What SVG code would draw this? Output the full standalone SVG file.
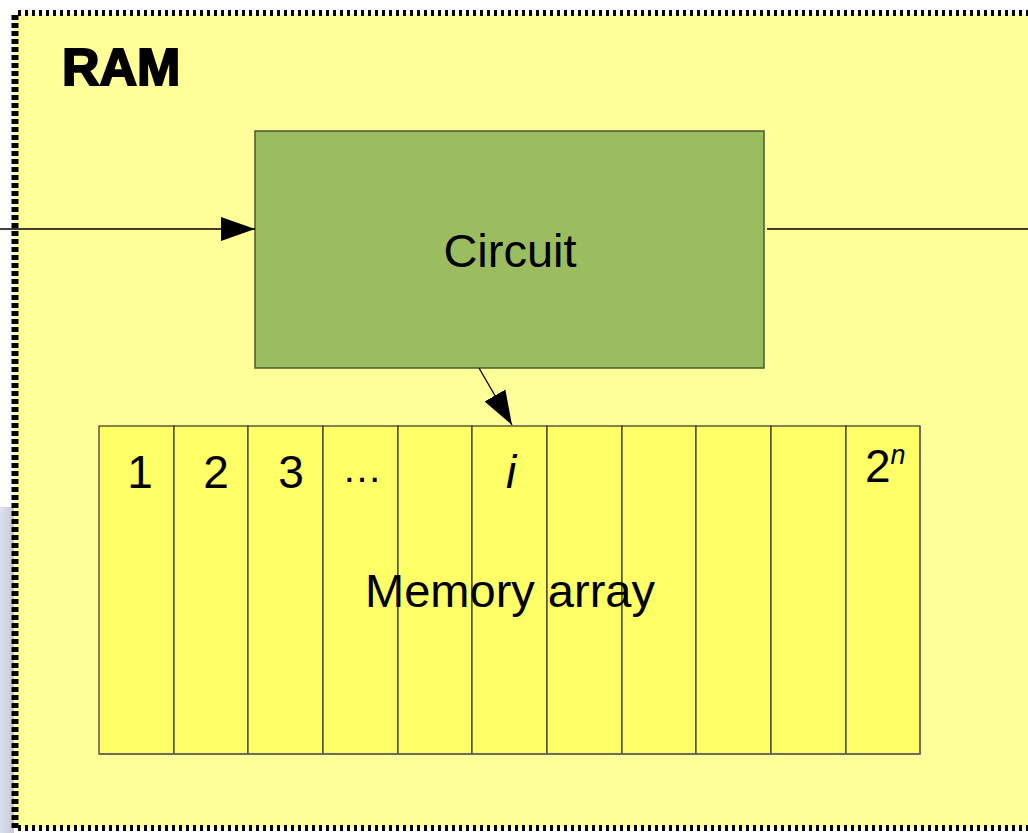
<svg xmlns="http://www.w3.org/2000/svg" width="1028" height="833" viewBox="0 0 1028 833">
<defs>
<style>
.t{font-family:"Liberation Sans",Arial,sans-serif;fill:#000}
.cell{fill:#ffff66;stroke:#333;stroke-width:1.2}
.con{stroke:#000;stroke-width:1.3;fill:none}
</style>
<marker id="ah" markerWidth="36" markerHeight="26" refX="34" refY="13" orient="auto" markerUnits="userSpaceOnUse">
<path d="M0,1 L34,13 L0,25 Z" fill="#000"/>
</marker>
<linearGradient id="lg" x1="0" y1="0" x2="1" y2="0">
<stop offset="0" stop-color="#dde0ee"/><stop offset="1" stop-color="#c8c8d4"/>
</linearGradient>
</defs>
<rect width="1028" height="833" fill="#fff"/>
<rect x="0" y="507" width="14" height="326" fill="url(#lg)"/>
<g id="ram">
<rect x="14" y="14" width="1020" height="814" fill="#ffff99"/>
<path d="M15,828 L15,14" fill="none" stroke="#000" stroke-width="7" stroke-dasharray="5,3"/>
<path d="M18,13 L1028,13" fill="none" stroke="#000" stroke-width="6" stroke-dasharray="3,4"/>
<path d="M18,828 L1028,828" fill="none" stroke="#000" stroke-width="6" stroke-dasharray="3,4"/>
<text class="t" x="62" y="85" font-size="52" font-weight="bold" stroke="#000" stroke-width="2">RAM</text>
</g>
<g id="circuit">
<rect x="255" y="131" width="509" height="237" fill="#9bbd5f" stroke="#4a5a30" stroke-width="1.5"/>
<text class="t" x="510" y="267" font-size="47" text-anchor="middle">Circuit</text>
</g>
<g id="memory">
<rect class="cell" x="99" y="426" width="75" height="328"/>
<rect class="cell" x="174" y="426" width="74" height="328"/>
<rect class="cell" x="248" y="426" width="75" height="328"/>
<rect class="cell" x="323" y="426" width="75" height="328"/>
<rect class="cell" x="398" y="426" width="74" height="328"/>
<rect class="cell" x="472" y="426" width="75" height="328"/>
<rect class="cell" x="547" y="426" width="75" height="328"/>
<rect class="cell" x="622" y="426" width="74" height="328"/>
<rect class="cell" x="696" y="426" width="75" height="328"/>
<rect class="cell" x="771" y="426" width="75" height="328"/>
<rect class="cell" x="846" y="426" width="74" height="328"/>
<path d="M99,754 L920,754 L920,426" fill="none" stroke="#666" stroke-width="1.5"/>
<text class="t" x="140" y="488" font-size="46" text-anchor="middle">1</text>
<text class="t" x="216" y="488" font-size="46" text-anchor="middle">2</text>
<text class="t" x="291" y="488" font-size="46" text-anchor="middle">3</text>
<text class="t" x="362" y="482" font-size="40" text-anchor="middle">…</text>
<text class="t" x="511" y="488" font-size="46" text-anchor="middle" font-style="italic">i</text>
<text class="t" x="865" y="482" font-size="46">2<tspan font-size="27" font-style="italic" dy="-18">n</tspan></text>
<text class="t" x="510" y="607" font-size="47" text-anchor="middle">Memory array</text>
</g>
<g id="connectors">
<line class="con" x1="0" y1="229" x2="255" y2="229" marker-end="url(#ah)"/>
<line class="con" x1="767" y1="229" x2="1028" y2="229"/>
<line class="con" x1="479" y1="368" x2="512" y2="425" marker-end="url(#ah)"/>
</g>
</svg>
